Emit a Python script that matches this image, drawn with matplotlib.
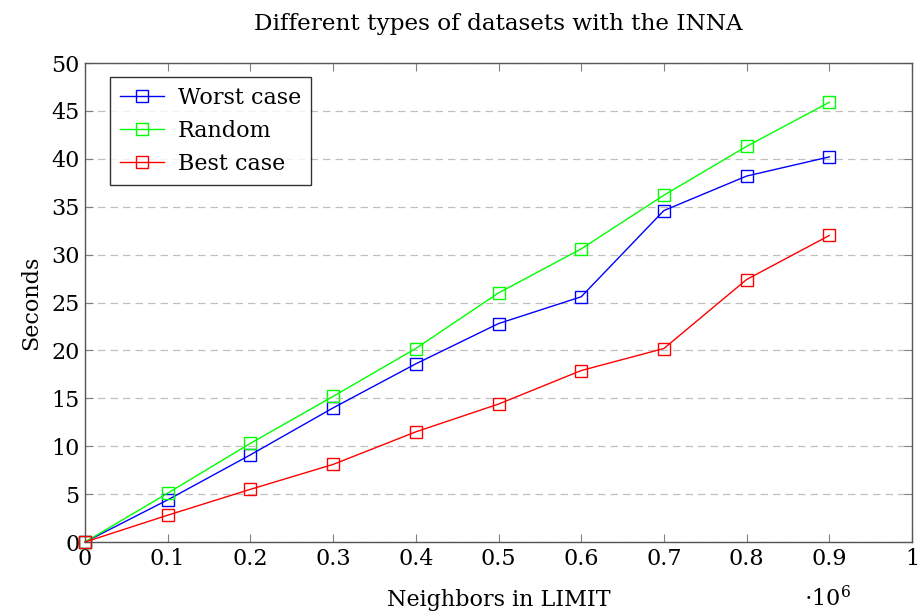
import matplotlib
matplotlib.use("Agg")
import matplotlib.pyplot as plt

# neighbors in LIMIT (x 10^6)
neighbors = [0, 0.1, 0.2, 0.3, 0.4, 0.5, 0.6, 0.7, 0.8, 0.9]

# seconds per dataset type
worst_case = [0, 4.4, 9.1, 14.0, 18.6, 22.8, 25.6, 34.6, 38.2, 40.2]
random_case = [0, 5.1, 10.3, 15.2, 20.2, 26.0, 30.6, 36.2, 41.3, 45.9]
best_case = [0, 2.8, 5.5, 8.1, 11.5, 14.4, 17.9, 20.2, 27.4, 32.0]

x_ticks = [0, 0.1, 0.2, 0.3, 0.4, 0.5, 0.6, 0.7, 0.8, 0.9, 1]
x_tick_labels = ["0", "0.1", "0.2", "0.3", "0.4", "0.5", "0.6", "0.7", "0.8", "0.9", "1"]
y_ticks = [0, 5, 10, 15, 20, 25, 30, 35, 40, 45, 50]

plt.rcParams['font.family'] = ['DejaVu Serif']
plt.rcParams['mathtext.fontset'] = 'dejavuserif'

fig = plt.figure(figsize=(9.2, 6.16), dpi=100)
ax = fig.add_axes([0.0924, 0.1201, 0.8989, 0.7776])

style = dict(marker='s', markersize=8.5, markerfacecolor='none',
             markeredgewidth=1.0, linewidth=1.0, clip_on=False, zorder=3)
ax.plot(neighbors, worst_case, color=(0, 0, 1), label='Worst case', **style)
ax.plot(neighbors, random_case, color=(0, 1, 0), label='Random', **style)
ax.plot(neighbors, best_case, color=(1, 0, 0), label='Best case', **style)

ax.set_xlim(0, 1)
ax.set_ylim(0, 50)
ax.set_xticks(x_ticks)
ax.set_xticklabels(x_tick_labels)
ax.set_yticks(y_ticks)

ax.yaxis.grid(True, linestyle=(0, (6, 4)), color='#c0c0c0', linewidth=0.9)
ax.set_axisbelow(True)

ax.tick_params(direction='in', top=True, right=True, length=6,
               color='#808080', labelsize=16, pad=4)
for sp in ax.spines.values():
    sp.set_color('#555555')
    sp.set_linewidth(1.0)

ax.set_xlabel('Neighbors in LIMIT', fontsize=16, labelpad=14)
ax.set_ylabel('Seconds', fontsize=16, labelpad=6)
ax.set_title('Different types of datasets with the INNA', fontsize=16.7, pad=24)

ax.text(0.87, -0.118, r'$\cdot 10^{6}$', transform=ax.transAxes,
        fontsize=16, ha='left', va='center')

leg = ax.legend(loc='upper left', bbox_to_anchor=(0.03, 0.971), fontsize=16,
                frameon=True, fancybox=False, edgecolor='black',
                handlelength=2.0, handletextpad=0.6, borderpad=0.45,
                labelspacing=0.5, borderaxespad=0)
leg.get_frame().set_linewidth(1.0)

fig.savefig('out.png', dpi=100)
